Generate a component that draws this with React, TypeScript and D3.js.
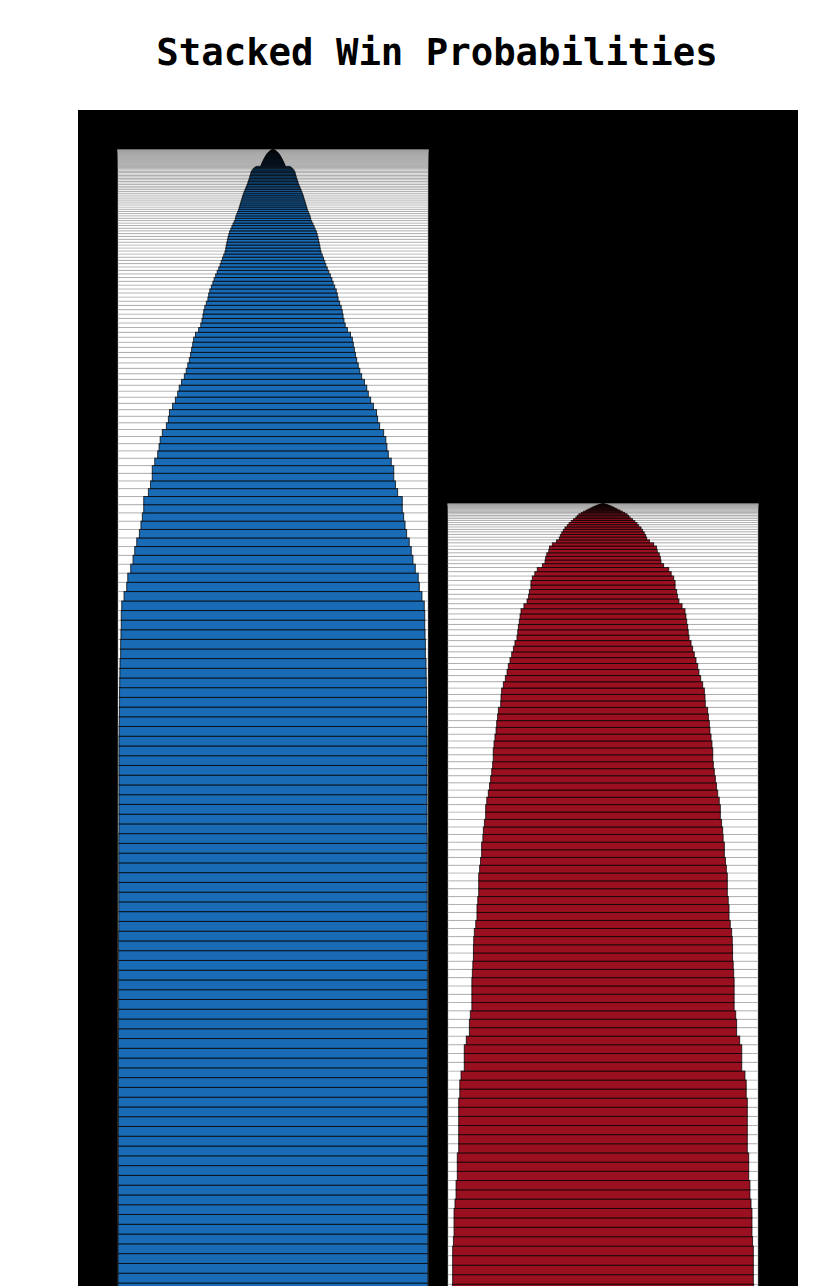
import React, { useEffect, useRef } from "react";
import * as d3 from "d3";

// one entry per game, least likely win first (top of the stack)
const teams = ["blue", "red"];
const teamColors = ["#1a6bb5", "#9b1020"];
const title = "Stacked Win Probabilities";

const blueProbs = [
  0.003, 0.004, 0.005, 0.006, 0.008, 0.009, 0.01, 0.012, 0.013, 0.014, 0.016, 0.017, 0.018, 0.02, 0.021,
  0.022, 0.024, 0.026, 0.028, 0.03, 0.032, 0.034, 0.036, 0.038, 0.04, 0.041, 0.043, 0.045, 0.047, 0.049,
  0.05, 0.052, 0.054, 0.056, 0.058, 0.06, 0.062, 0.064, 0.066, 0.068, 0.07, 0.072, 0.074, 0.076, 0.078,
  0.11, 0.12, 0.128, 0.135, 0.14, 0.142, 0.145, 0.148, 0.15, 0.153, 0.157, 0.16,
  0.163, 0.167, 0.172, 0.176, 0.181, 0.186, 0.19, 0.195, 0.198, 0.202, 0.206, 0.21, 0.214, 0.218,
  0.222, 0.228, 0.234, 0.24, 0.243, 0.25, 0.258, 0.265, 0.272, 0.28,
  0.285, 0.29, 0.294, 0.298, 0.302, 0.305, 0.31, 0.318, 0.326, 0.334, 0.341,
  0.35, 0.36, 0.37, 0.38, 0.388, 0.398, 0.408, 0.415, 0.42, 0.43, 0.44, 0.447,
  0.452, 0.458, 0.466, 0.48, 0.5, 0.512, 0.518, 0.525, 0.532, 0.54, 0.55, 0.56, 0.572,
  0.59, 0.605, 0.615, 0.63, 0.648, 0.668, 0.675, 0.688, 0.714, 0.728,
  0.735, 0.744, 0.763, 0.779, 0.779, 0.79, 0.804, 0.834, 0.834, 0.843, 0.852,
  0.862, 0.879, 0.892, 0.903, 0.918, 0.937, 0.944, 0.961,
  0.976, 0.979, 0.979, 0.981, 0.983, 0.983, 0.987, 0.988, 0.989, 0.99, 0.99, 0.991, 0.992, 0.993,
  0.994, 0.994, 0.994, 0.994, 0.994, 0.994, 0.994, 0.994, 0.994, 0.994,
  0.995, 0.995, 0.995, 0.995, 0.995, 0.995, 0.995, 0.995, 0.995, 0.995,
  0.996, 0.996, 0.996, 0.996, 0.996, 0.996, 0.996, 0.996, 0.996, 0.996,
  0.997, 0.997, 0.997, 0.997, 0.997, 0.997, 0.997, 0.997, 0.997, 0.997,
  0.998, 0.998, 0.998, 0.998, 0.998, 0.998, 0.998, 0.998, 0.998, 0.998,
  0.999, 0.999, 0.999, 0.999, 0.999, 0.999, 0.999, 0.999, 0.999, 0.999, 0.999, 0.999,
];

const redProbs = [
  0.003, 0.005, 0.008, 0.011, 0.015, 0.02, 0.025, 0.03, 0.036, 0.042, 0.05, 0.058, 0.066, 0.075, 0.085,
  0.097, 0.11, 0.125, 0.14, 0.155, 0.165, 0.175,
  0.19, 0.205, 0.219, 0.23, 0.245, 0.255, 0.266, 0.275, 0.282, 0.3,
  0.327, 0.345, 0.35, 0.363, 0.37, 0.374, 0.391, 0.424, 0.44,
  0.456, 0.465, 0.465, 0.475, 0.48, 0.49, 0.51, 0.529, 0.535, 0.54, 0.546, 0.55,
  0.555, 0.568, 0.578, 0.589, 0.6, 0.611, 0.619, 0.63, 0.643, 0.654, 0.658, 0.66,
  0.675, 0.68, 0.686, 0.69, 0.697, 0.703, 0.708, 0.708, 0.712, 0.718, 0.725, 0.732, 0.74,
  0.75, 0.757, 0.757, 0.765, 0.772, 0.775, 0.783, 0.783,
  0.79, 0.796, 0.802, 0.802, 0.802, 0.808, 0.813, 0.813,
  0.821, 0.83, 0.834, 0.836, 0.836, 0.84, 0.843, 0.846, 0.846, 0.846, 0.846,
  0.856, 0.862, 0.862, 0.882, 0.895, 0.895, 0.895, 0.916, 0.924, 0.924,
  0.931, 0.931, 0.931, 0.931, 0.931, 0.931, 0.94, 0.94, 0.94, 0.948, 0.948, 0.955,
  0.961, 0.961, 0.961, 0.965, 0.97, 0.97, 0.97, 0.97,
  0.972, 0.975, 0.978, 0.98, 0.983, 0.985,
];

const App = () => {
  const svgRef = useRef(null);

  useEffect(() => {
    const frame = { left: 78, right: 798, top: 110 };
    const pad = 40;
    const unit = 9.8; // px per expected win
    const svg = d3.select(svgRef.current);
    svg.selectAll("*").remove();

    const series = [blueProbs, redProbs];
    const maxTotal = d3.max(series, (s) => d3.sum(s));
    const plotTop = frame.top + pad;
    const baseline = plotTop + maxTotal * unit;

    const x = d3
      .scaleBand()
      .domain(teams)
      .range([frame.left, frame.right])
      .paddingOuter(40 / 330)
      .paddingInner(20 / 330);
    const y = d3.scaleLinear().domain([0, maxTotal]).range([baseline, plotTop]);
    const w = d3.scaleLinear().domain([0, 1]).range([0, x.bandwidth()]);

    // black panel
    svg
      .append("rect")
      .attr("x", frame.left)
      .attr("y", frame.top)
      .attr("width", frame.right - frame.left)
      .attr("height", baseline + pad - frame.top)
      .attr("fill", "#000");

    // title
    svg
      .append("text")
      .attr("x", 437)
      .attr("y", 65)
      .attr("text-anchor", "middle")
      .style("font-family", "'DejaVu Sans Mono', monospace")
      .style("font-weight", "bold")
      .style("font-size", "37.3px")
      .text(title);

    teams.forEach((team, i) => {
      // stack from the bottom, most likely win first
      const sorted = series[i].slice().sort((a, b) => b - a);
      let acc = 0;
      const rows = sorted.map((p) => {
        const r = { p, y0: acc, y1: acc + p };
        acc += p;
        return r;
      });

      const g = svg.append("g").attr("class", team);

      g.selectAll(".bg")
        .data(rows)
        .join("rect")
        .attr("class", "bg")
        .attr("x", x(team))
        .attr("width", x.bandwidth())
        .attr("y", (d) => y(d.y1))
        .attr("height", (d) => y(d.y0) - y(d.y1))
        .attr("fill", "#fff")
        .attr("stroke", "#999")
        .attr("stroke-opacity", 0.45)
        .attr("stroke-width", 1);

      g.selectAll(".bar")
        .data(rows)
        .join("rect")
        .attr("class", "bar")
        .attr("x", (d) => x(team) + (x.bandwidth() - w(d.p)) / 2)
        .attr("width", (d) => w(d.p))
        .attr("y", (d) => y(d.y1))
        .attr("height", (d) => y(d.y0) - y(d.y1))
        .attr("fill", teamColors[i])
        .attr("stroke", "#000")
        .attr("stroke-opacity", 0.75)
        .attr("stroke-width", 1);
    });
  }, []);

  return (
    <div style={{ position: "absolute", left: 0, top: 0 }}>
      <svg ref={svgRef} width={826} height={1286} style={{ display: "block" }}></svg>
    </div>
  );
};

export default App;
